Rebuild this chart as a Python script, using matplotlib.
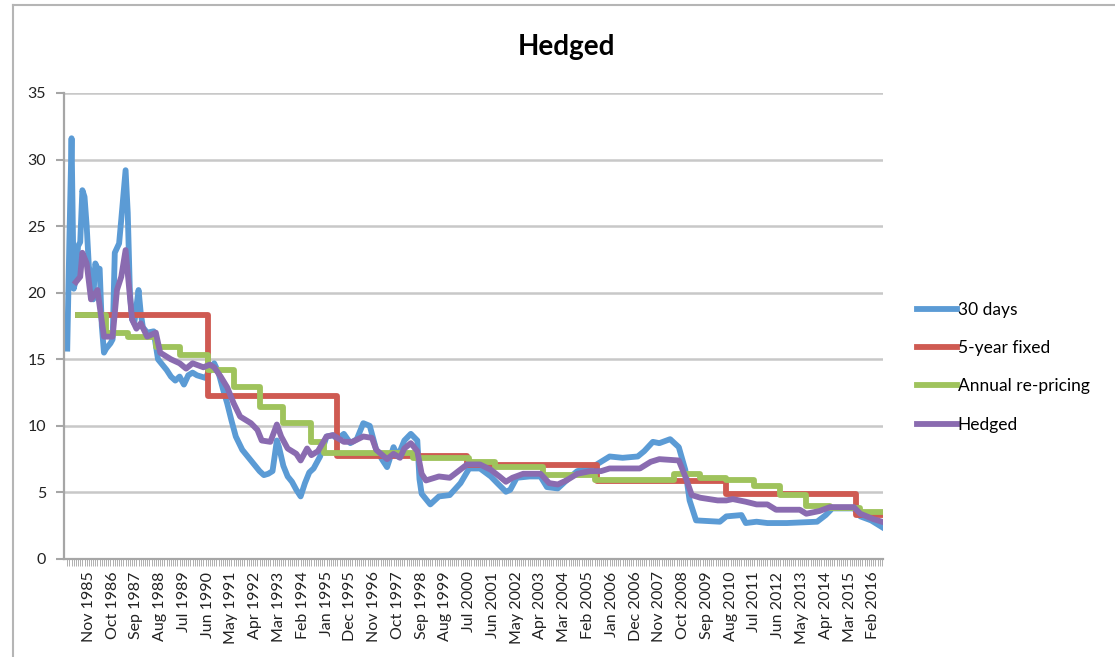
import matplotlib
matplotlib.use("Agg")
import matplotlib.pyplot as plt
from matplotlib.lines import Line2D

plt.rcParams['font.family'] = ['Lato', 'DejaVu Sans']

# x values are month numbers counted from Jan 1985 (= 0)
tick_months = list(range(10, 378, 11))
tick_labels = ["Nov 1985", "Oct 1986", "Sep 1987", "Aug 1988", "Jul 1989", "Jun 1990",
               "May 1991", "Apr 1992", "Mar 1993", "Feb 1994", "Jan 1995", "Dec 1995",
               "Nov 1996", "Oct 1997", "Sep 1998", "Aug 1999", "Jul 2000", "Jun 2001",
               "May 2002", "Apr 2003", "Mar 2004", "Feb 2005", "Jan 2006", "Dec 2006",
               "Nov 2007", "Oct 2008", "Sep 2009", "Aug 2010", "Jul 2011", "Jun 2012",
               "May 2013", "Apr 2014", "Mar 2015", "Feb 2016"]

days30_m = [0, 1, 2, 3, 4, 5, 6, 7, 8, 9, 10, 12, 13, 14, 15, 16, 17, 18, 20, 21, 22, 24, 25,
            27, 28, 29, 30, 31, 33, 34, 35, 37, 40, 42, 44, 46, 48, 50, 52, 54, 56, 58, 60,
            62, 64, 66, 68, 70, 72, 74, 76, 78, 81, 84, 86, 89, 91, 93, 95, 97, 98, 100, 102,
            104, 106, 108, 110, 112, 114, 117, 120, 123, 125, 128, 131, 134, 137, 140, 143,
            146, 148, 151, 153, 156, 159, 162, 163, 164, 168, 172, 177, 182, 186, 191, 196,
            199, 203, 205, 208, 214, 219, 222, 227, 231, 236, 242, 248, 251, 257, 264, 267,
            271, 274, 279, 283, 286, 288, 291, 302, 305, 312, 314, 319, 324, 333, 347, 351,
            354, 364, 367, 372, 377]
days30_v = [15.8, 24.0, 31.6, 20.3, 21.0, 23.5, 23.8, 27.7, 27.2, 25.0, 22.0, 19.5, 22.2, 21.8,
            21.8, 17.5, 15.5, 15.8, 16.2, 16.5, 23.0, 23.7, 25.5, 29.2, 26.0, 20.0, 18.0, 17.7,
            20.2, 18.5, 17.4, 17.0, 17.1, 15.0, 14.6, 14.2, 13.7, 13.4, 13.7, 13.1, 13.8, 14.0,
            13.8, 13.7, 13.6, 14.2, 14.7, 14.0, 12.8, 11.7, 10.4, 9.2, 8.2, 7.6, 7.2, 6.6, 6.3,
            6.4, 6.6, 8.9, 8.4, 7.0, 6.2, 5.8, 5.2, 4.7, 5.7, 6.5, 6.8, 7.7, 9.2, 9.3, 9.0, 9.4,
            8.7, 9.0, 10.2, 10.0, 8.2, 7.4, 6.9, 8.4, 7.7, 8.9, 9.4, 8.9, 6.0, 4.9, 4.1, 4.7,
            4.8, 5.7, 6.8, 6.8, 6.2, 5.7, 5.05, 5.2, 6.1, 6.2, 6.2, 5.4, 5.3, 5.9, 6.6, 6.8,
            7.4, 7.7, 7.6, 7.7, 8.1, 8.8, 8.7, 9.0, 8.4, 6.7, 4.4, 2.9, 2.8, 3.2, 3.3, 2.7, 2.8,
            2.7, 2.7, 2.8, 3.3, 3.8, 3.8, 3.2, 2.9, 2.4]

fixed5_m = [5, 65, 125, 185, 245, 305, 365, 377]
fixed5_v = [18.3, 12.25, 7.75, 7.05, 5.85, 4.9, 3.3, 3.3]

annual_m = [5, 18, 28, 41, 52, 65, 77, 89, 100, 113, 119, 160, 186, 198, 220, 244, 281, 293,
            305, 318, 330, 342, 353, 367, 377]
annual_v = [18.3, 17.0, 16.65, 15.95, 15.35, 14.2, 12.95, 11.45, 10.2, 8.8, 7.95, 7.6, 7.3,
            6.9, 6.3, 5.95, 6.35, 6.1, 5.95, 5.5, 4.8, 3.95, 3.85, 3.5, 3.5]

hedged_m = [4, 6, 7, 9, 11, 14, 15, 17, 21, 23, 25, 27, 30, 32, 34, 37, 41, 43, 48, 52, 55, 58,
            63, 66, 68, 71, 74, 77, 80, 85, 88, 90, 94, 97, 99, 102, 106, 108, 111, 113, 116,
            120, 123, 128, 132, 137, 141, 143, 148, 151, 154, 156, 159, 162, 164, 166, 172,
            177, 181, 185, 191, 196, 200, 203, 206, 211, 219, 223, 227, 231, 236, 242, 247,
            251, 265, 270, 274, 283, 286, 289, 293, 301, 305, 308, 314, 319, 324, 328, 339,
            342, 348, 353, 364, 367, 373, 377]
hedged_v = [20.8, 21.2, 23.0, 22.2, 19.5, 20.2, 19.0, 16.7, 16.7, 20.2, 21.2, 23.2, 18.0, 17.3,
            17.7, 16.7, 17.0, 15.5, 15.0, 14.7, 14.3, 14.7, 14.4, 14.6, 14.4, 13.7, 12.9, 11.7,
            10.7, 10.2, 9.7, 8.9, 8.8, 10.1, 9.2, 8.3, 7.9, 7.4, 8.3, 7.8, 8.1, 9.2, 9.3, 8.8,
            8.8, 9.2, 9.1, 8.2, 7.5, 7.9, 7.6, 8.3, 8.7, 8.1, 6.4, 5.9, 6.2, 6.1, 6.6, 7.1, 7.1,
            6.7, 6.2, 5.8, 6.1, 6.4, 6.4, 5.7, 5.6, 5.9, 6.4, 6.6, 6.6, 6.8, 6.8, 7.3, 7.5, 7.4,
            6.2, 4.8, 4.6, 4.4, 4.4, 4.5, 4.3, 4.1, 4.1, 3.7, 3.7, 3.4, 3.6, 3.9, 3.9, 3.4, 3.0,
            2.8]

blue = '#5b9bd5'
red = '#cf5a52'
green = '#9fc35c'
purple = '#8a6bb0'
grid_gray = '#c8c8c8'
text_col = '#222222'

fig = plt.figure(figsize=(11.15, 6.57), dpi=100)
ax = fig.add_axes([64 / 1115, 98 / 657, 819 / 1115, 466 / 657])

lw = 4.2
ax.plot(days30_m, days30_v, color=blue, lw=lw, solid_joinstyle='round', label='30 days')
ax.plot(fixed5_m, fixed5_v, color=red, lw=lw, drawstyle='steps-post', label='5-year fixed')
ax.plot(annual_m, annual_v, color=green, lw=lw, drawstyle='steps-post', label='Annual re-pricing')
ax.plot(hedged_m, hedged_v, color=purple, lw=lw, solid_joinstyle='round', label='Hedged')

ax.set_xlim(-1.5, 377.5)
ax.set_ylim(0, 35)
ax.set_yticks(range(0, 36, 5))
ax.set_xticks(tick_months)
ax.set_xticklabels(tick_labels, rotation=90, fontsize=11.5, color=text_col)
ax.set_xticks(range(0, 378), minor=True)
ax.tick_params(axis='y', labelsize=11.5, labelcolor=text_col, color='#a6a6a6',
               length=6, width=1.5, pad=7)
ax.tick_params(axis='x', which='both', color='#b0b0b0', length=5, width=0.7, pad=4)

ax.grid(axis='y', color=grid_gray, lw=1.8)
ax.set_axisbelow(True)
for s in ['top', 'right']:
    ax.spines[s].set_visible(False)
ax.spines['left'].set_color('#a6a6a6')
ax.spines['left'].set_linewidth(1.6)
ax.spines['bottom'].set_color('#a6a6a6')
ax.spines['bottom'].set_linewidth(1.6)

fig.text(566 / 1115, 1 - 47 / 657, 'Hedged', ha='center', va='center',
         fontsize=20, fontweight='bold')

ax.legend(loc='upper left', bbox_to_anchor=(917 / 1115, 1 - 302 / 657),
          bbox_transform=fig.transFigure, frameon=False, fontsize=12.5,
          handlelength=2.3, handletextpad=0.05, labelspacing=1.28,
          borderpad=0, borderaxespad=0)

# outer chart frame
fig.add_artist(Line2D([13 / 1115, 13 / 1115], [0, 1 - 5 / 657], color='#b5b5b5', lw=1.5))
fig.add_artist(Line2D([13 / 1115, 1], [1 - 5 / 657, 1 - 5 / 657], color='#b5b5b5', lw=1.5))

fig.savefig('out.png', dpi=100)
